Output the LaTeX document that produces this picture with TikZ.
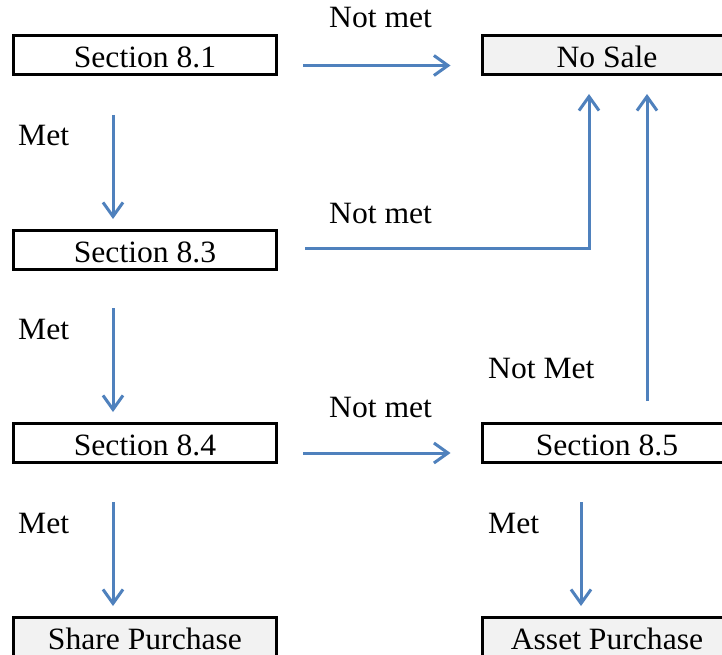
\documentclass[tikz,border=0pt]{standalone}
\usepackage{fontspec}
\setmainfont[FakeStretch=1.02]{Liberation Serif}
\usetikzlibrary{arrows.meta}
\definecolor{arrblue}{HTML}{4F81BD}
\definecolor{boxgrey}{HTML}{F2F2F2}
\begin{document}
\begin{tikzpicture}[x=1pt,y=-1pt,
  box/.style={draw=black, line width=3pt, minimum height=39pt, inner sep=0pt, text height=24.5pt, text depth=0pt, font=\fontsize{31}{36}\selectfont},
  lbox/.style={box, minimum width=263pt},
  rbox/.style={box, minimum width=250pt},
  grey/.style={fill=boxgrey},
  arr/.style={draw=arrblue, line width=3pt, -{Straight Barb[length=14pt,width=20pt]}},
  lab/.style={font=\fontsize{31}{36}\selectfont, inner sep=0pt, anchor=base west}]
\useasboundingbox (0,0) rectangle (722,655);
\clip (0,0) rectangle (722,655);
\fill[white] (0,0) rectangle (722,655);

\node[lbox] (s81) at (145,55.5) {Section 8.1};
\node[rbox,grey] (ns) at (607,55.5) {No Sale};
\node[lbox] (s83) at (145,250) {Section 8.3};
\node[lbox] (s84) at (145,443) {Section 8.4};
\node[rbox] (s85) at (607,443) {Section 8.5};
\node[lbox,grey] (sp) at (145,637) {Share Purchase};
\node[rbox,grey] (ap) at (607,637) {Asset Purchase};

\coordinate (xl) at (113,0);
\coordinate (xr) at (581,0);
\coordinate (xa) at (589,0);
\coordinate (xb) at (647,0);

\draw[arr, shorten <=25pt, shorten >=30pt] ([yshift=-10pt]s81.east) -- ([yshift=-10pt]ns.west);
\draw[arr, shorten <=27pt, shorten >=17.5pt] ([yshift=1.5pt]s83.east) -- ([yshift=1.5pt]s83.east -| xa) -- (ns.south -| xa);
\draw[arr, shorten <=21pt, shorten >=17.5pt] (s85.north -| xb) -- (ns.south -| xb);
\draw[arr, shorten <=38.5pt, shorten >=10pt] (s81.south -| xl) -- (s83.north -| xl);
\draw[arr, shorten <=37pt, shorten >=10pt] (s83.south -| xl) -- (s84.north -| xl);
\draw[arr, shorten <=38pt, shorten >=10pt] (s84.south -| xl) -- (sp.north -| xl);
\draw[arr, shorten <=38pt, shorten >=10pt] (s85.south -| xr) -- (ap.north -| xr);
\draw[arr, shorten <=25pt, shorten >=30pt] ([yshift=-10pt]s84.east) -- ([yshift=-10pt]s85.west);

\node[lab] (l1) at (329,28) {Not met};
\node[lab] (l2) at (18,146) {Met};
\node[lab] (l3) at (329,223) {Not met};
\node[lab] (l4) at (18,339) {Met};
\node[lab] (l5) at (488,378) {Not Met};
\node[lab] (l6) at (329,417) {Not met};
\node[lab] (l7) at (18,533) {Met};
\node[lab] (l8) at (488,533) {Met};
\end{tikzpicture}
\end{document}
